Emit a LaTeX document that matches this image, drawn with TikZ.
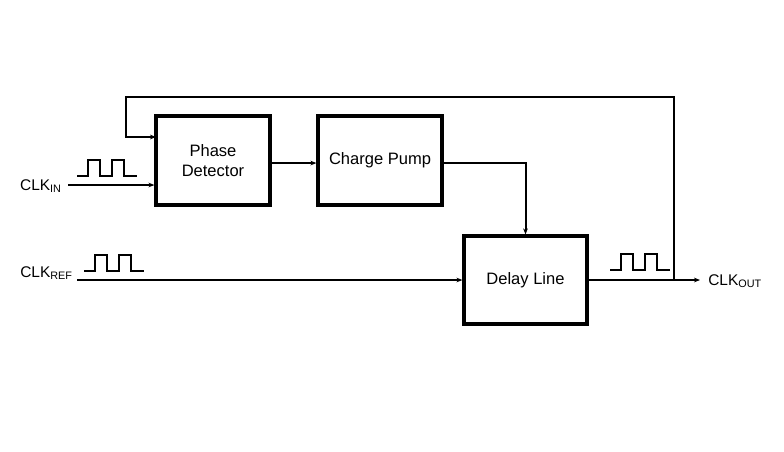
\documentclass[tikz,border=0pt]{standalone}
\usepackage{fontspec}
\setmainfont{Liberation Sans}
\usetikzlibrary{arrows.meta,positioning}

\tikzset{
  blk/.style={draw, line width=2.4pt, align=center, font=\fontsize{12.4}{15}\selectfont},
  wire/.style={line width=1.5pt},
  sig/.style={wire, -{Stealth[length=4.5pt,width=3.5pt]}},
  lbl/.style={inner sep=0pt, font=\fontsize{11.6}{13}\selectfont},
  clkwave/.pic={
    \draw[line width=1.4pt] (0,0) -- (11,0) -- (11,16) -- (23,16) -- (23,0) -- (35,0)
      -- (35,16) -- (47,16) -- (47,0) -- (60,0);
  }
}

\begin{document}
\begin{tikzpicture}[x=0.75pt,y=0.75pt,yscale=-1,xscale=1]
%set diagram size
\path (0,0) rectangle (784,451);

%Shape: Rectangle [Phase Detector]
\node[blk, minimum width=85.5pt, minimum height=66.75pt] (pd) at (213,160.5) {Phase\\Detector};
%Shape: Rectangle [Charge Pump]
\node[blk, minimum width=93pt, minimum height=66.75pt] (cp) at (380,160.5) {Charge Pump};
%Shape: Rectangle [Delay Line]
\node[blk, minimum width=92.25pt, minimum height=66pt] (dl) at (525.5,280) {Delay Line};

%Points
\coordinate (in) at (68,185);
\coordinate (ref) at (77,280);
\coordinate (tap) at (674,280);
\coordinate (out) at (700,280);
\coordinate (fb) at (126,97);
\coordinate (pdfb) at (156,137);

%Labels
\node[lbl, anchor=east] (clkin) at (62,186) {CLK\textsubscript{IN}};
\node[lbl, anchor=east] (clkref) at (73,273) {CLK\textsubscript{REF}};
\node[lbl, anchor=west] (clkout) at (708,281) {CLK\textsubscript{OUT}};

%Waveforms
\pic at (77,176) {clkwave};
\pic at (84,271) {clkwave};
\pic at (610,270) {clkwave};

%Straight Lines
\draw[sig] (in) -- (in -| pd.west);
\draw[sig] (ref) -- (dl.west);
\draw[sig] ([yshift=1.9pt]pd.east) -- ([yshift=1.9pt]cp.west);
\draw[sig] ([yshift=1.9pt]cp.east) -| (dl.north);
\draw[sig] (dl.east) -- (out);
%feedback
\draw[sig] (tap) |- (fb) |- (pdfb);

\end{tikzpicture}
\end{document}
